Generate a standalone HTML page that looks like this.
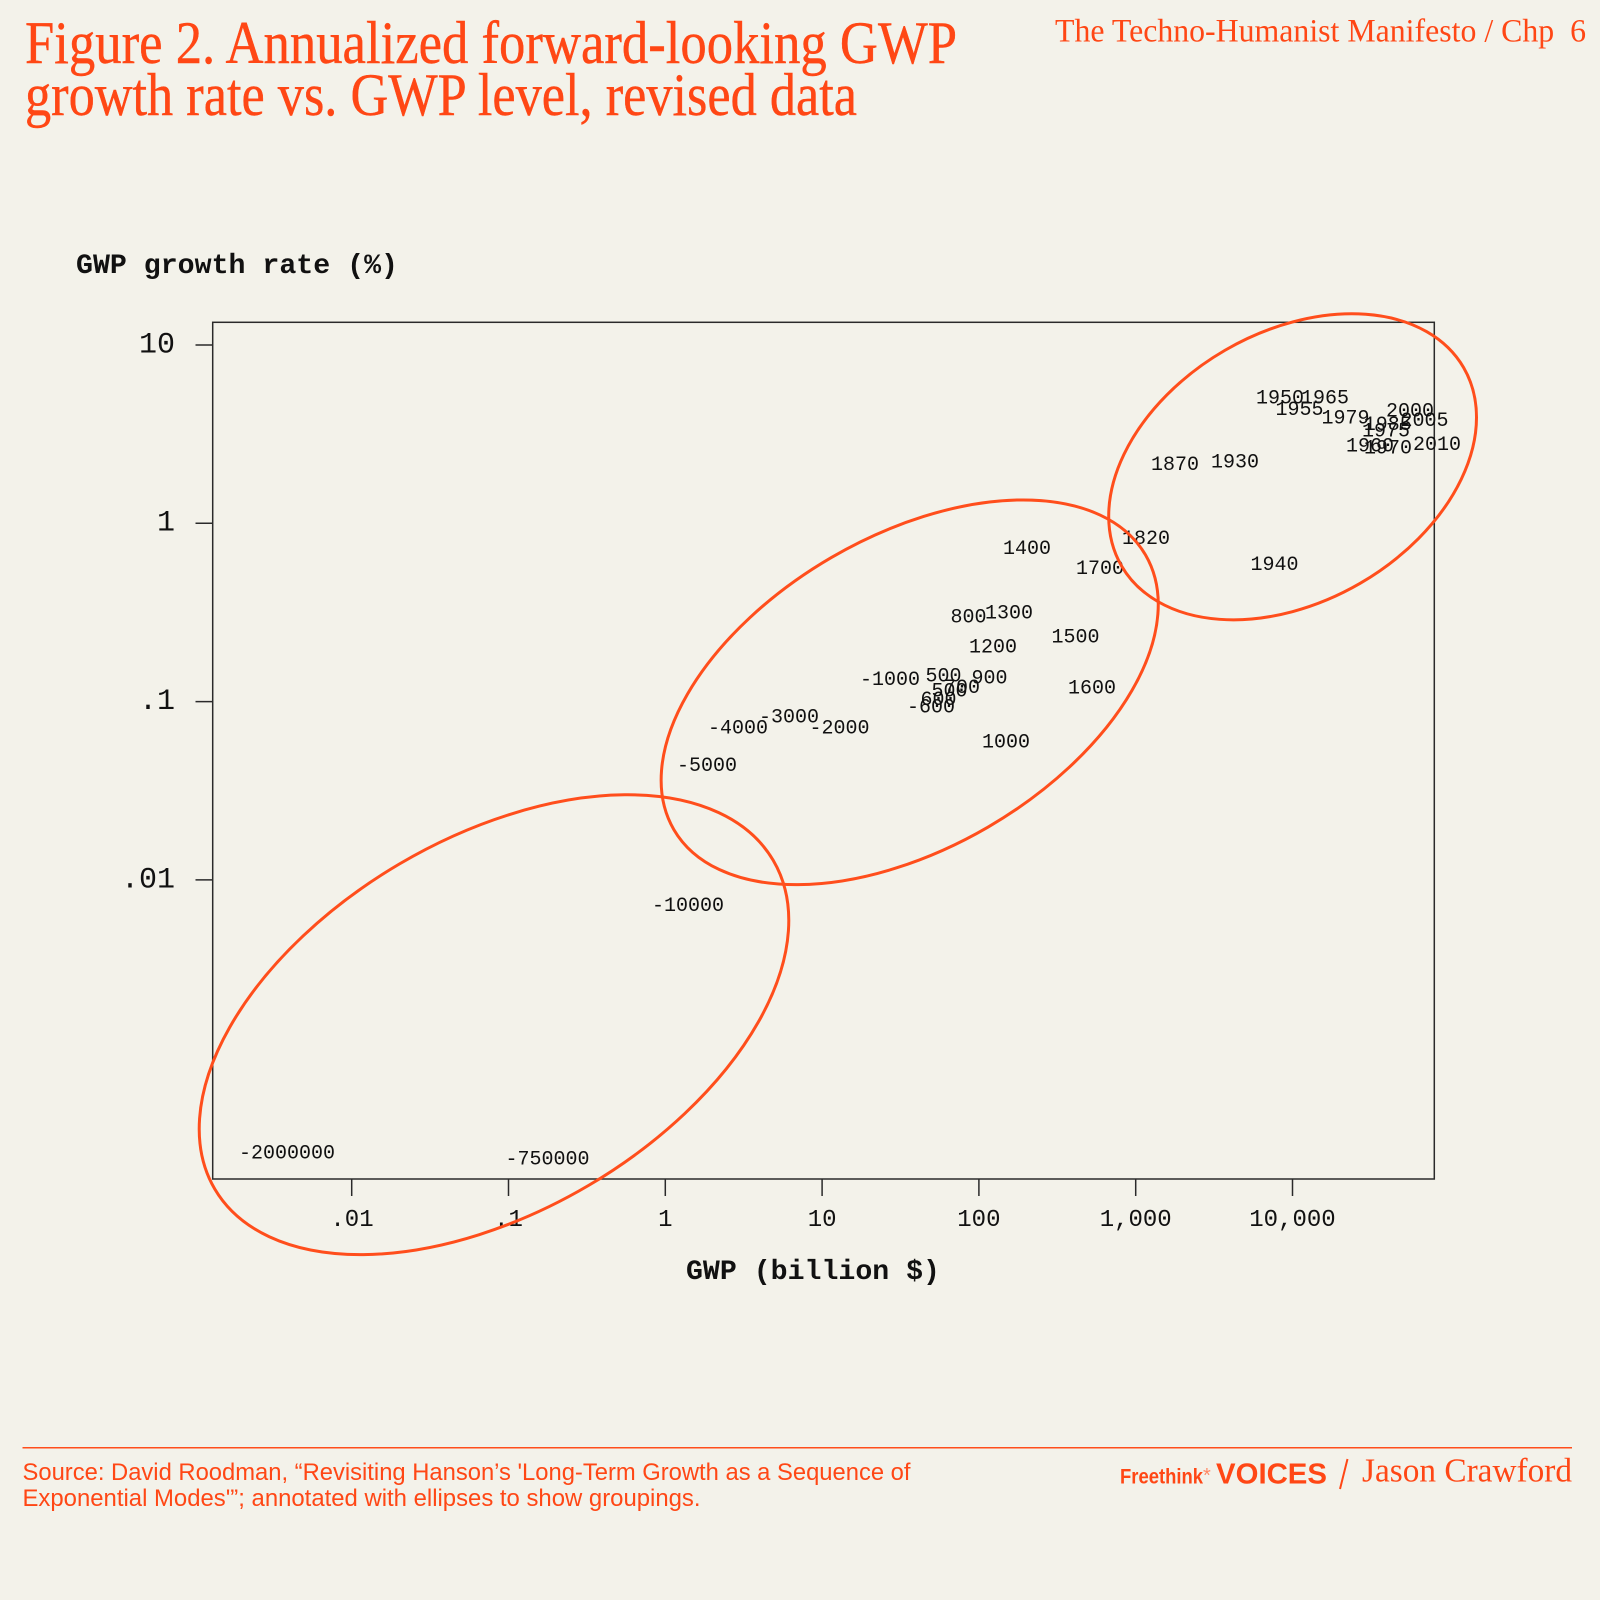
<!DOCTYPE html>
<html>
<head>
<meta charset="utf-8">
<style>
  html, body { margin: 0; padding: 0; background: #F3F2EA; }
  svg { display: block; }
</style>
</head>
<body>
<svg xmlns="http://www.w3.org/2000/svg" width="1600" height="1600" viewBox="0 0 1600 1600">
  <rect x="0" y="0" width="1600" height="1600" fill="#F3F2EA"/>

  <!-- Header -->
  <g font-family="'Liberation Serif', serif" fill="#FF4715">
    <text x="25" y="63" font-size="60" textLength="932" lengthAdjust="spacingAndGlyphs" stroke="#FF4715" stroke-width="0.4">Figure 2. Annualized forward-looking GWP</text>
    <text x="25" y="115" font-size="60" textLength="832" lengthAdjust="spacingAndGlyphs" stroke="#FF4715" stroke-width="0.4">growth rate vs. GWP level, revised data</text>
    <text x="1055" y="41.5" font-size="33" textLength="531" lengthAdjust="spacingAndGlyphs">The Techno-Humanist Manifesto / Chp&#160; 6</text>
  </g>

  <!-- Axis titles -->
  <g font-family="'Liberation Mono', monospace" font-weight="bold" fill="#111" font-size="28">
    <text x="76" y="273" textLength="322" lengthAdjust="spacingAndGlyphs">GWP growth rate (%)</text>
    <text x="686" y="1279" textLength="254" lengthAdjust="spacingAndGlyphs">GWP (billion $)</text>
  </g>

  <!-- Plot box -->
  <rect x="212.7" y="322.3" width="1221.6" height="856.7" fill="none" stroke="#2a2a2a" stroke-width="1.5"/>

  <!-- Y ticks -->
  <g stroke="#2a2a2a" stroke-width="1.5">
    <line x1="195.5" y1="345" x2="212.7" y2="345"/>
    <line x1="195.5" y1="523.3" x2="212.7" y2="523.3"/>
    <line x1="195.5" y1="701.6" x2="212.7" y2="701.6"/>
    <line x1="195.5" y1="879.9" x2="212.7" y2="879.9"/>
  </g>
  <g font-family="'Liberation Mono', monospace" fill="#111" font-size="30" text-anchor="end">
    <text x="175" y="352.5">10</text>
    <text x="175" y="530.5">1</text>
    <text x="175" y="709">.1</text>
    <text x="175" y="887.5">.01</text>
  </g>

  <!-- X ticks -->
  <g stroke="#2a2a2a" stroke-width="1.5">
    <line x1="351.7" y1="1179" x2="351.7" y2="1196"/>
    <line x1="508.5" y1="1179" x2="508.5" y2="1196"/>
    <line x1="665.3" y1="1179" x2="665.3" y2="1196"/>
    <line x1="822.1" y1="1179" x2="822.1" y2="1196"/>
    <line x1="978.9" y1="1179" x2="978.9" y2="1196"/>
    <line x1="1135.7" y1="1179" x2="1135.7" y2="1196"/>
    <line x1="1292.5" y1="1179" x2="1292.5" y2="1196"/>
  </g>
  <g font-family="'Liberation Mono', monospace" fill="#111" font-size="24" text-anchor="middle">
    <text x="352" y="1226">.01</text>
    <text x="508.5" y="1226">.1</text>
    <text x="665.3" y="1226">1</text>
    <text x="822.1" y="1226">10</text>
    <text x="978.9" y="1226">100</text>
    <text x="1135.7" y="1226">1,000</text>
    <text x="1292.5" y="1226">10,000</text>
  </g>

  <!-- Point labels -->
  <g font-family="'Liberation Mono', monospace" fill="#111" font-size="20">
    <!-- upper group -->
    <text x="1256" y="403.3">1950</text>
    <text x="1301" y="403.3">1965</text>
    <text x="1275.5" y="415">1955</text>
    <text x="1321.5" y="423.3">1979</text>
    <text x="1386" y="416.7">2000</text>
    <text x="1363.8" y="430">1985</text>
    <text x="1400.5" y="426">2005</text>
    <text x="1362" y="436.7">1975</text>
    <text x="1346" y="451.7">1960</text>
    <text x="1364" y="453.3">1970</text>
    <text x="1413" y="450">2010</text>
    <text x="1151" y="470">1870</text>
    <text x="1211" y="467.3">1930</text>
    <text x="1122" y="544">1820</text>
    <text x="1250.5" y="570">1940</text>
    <!-- middle group -->
    <text x="1003" y="554">1400</text>
    <text x="1076" y="574">1700</text>
    <text x="950.5" y="622.7">800</text>
    <text x="985" y="618.3">1300</text>
    <text x="1051.5" y="642.3">1500</text>
    <text x="969" y="652.7">1200</text>
    <text x="860" y="685">-1000</text>
    <text x="925.5" y="681.7">500</text>
    <text x="971.5" y="683.3">900</text>
    <text x="1068" y="693.3">1600</text>
    <text x="931.5" y="696.7">500</text>
    <text x="944" y="693">700</text>
    <text x="920.5" y="705">600</text>
    <text x="907" y="712.7">-600</text>
    <text x="982" y="747.3">1000</text>
    <text x="708" y="733.3">-4000</text>
    <text x="759" y="722.7">-3000</text>
    <text x="809.5" y="733.3">-2000</text>
    <text x="677" y="771">-5000</text>
    <!-- lower group -->
    <text x="652" y="911">-10000</text>
    <text x="239" y="1158.3">-2000000</text>
    <text x="505.5" y="1164.3">-750000</text>
  </g>

  <!-- Ellipses -->
  <g fill="none" stroke="#FF4E1C" stroke-width="3">
    <ellipse cx="0" cy="0" rx="324" ry="186.5" transform="translate(494 1024.7) rotate(-30.5)"/>
    <ellipse cx="0" cy="0" rx="272.9" ry="155.9" transform="translate(909.7 692.3) rotate(-30.2)"/>
    <ellipse cx="0" cy="0" rx="197.7" ry="134.7" transform="translate(1292.6 466.8) rotate(-30.1)"/>
  </g>

  <!-- Footer -->
  <line x1="22.5" y1="1447.7" x2="1572" y2="1447.7" stroke="#FF4E1C" stroke-width="1.5"/>
  <g font-family="'Liberation Sans', sans-serif" fill="#FF4715" font-size="24">
    <text x="22.5" y="1480" textLength="888" lengthAdjust="spacingAndGlyphs">Source: David Roodman, “Revisiting Hanson’s 'Long-Term Growth as a Sequence of</text>
    <text x="22.5" y="1506" textLength="678" lengthAdjust="spacingAndGlyphs">Exponential Modes'”; annotated with ellipses to show groupings.</text>
  </g>
  <g fill="#FF4715">
    <text x="1120" y="1483.3" font-family="'Liberation Sans', sans-serif" font-size="21" font-weight="bold" textLength="83" lengthAdjust="spacingAndGlyphs">Freethink</text>
    <text x="1203" y="1482" font-family="'Liberation Sans', sans-serif" font-size="20" fill="#FF8A66">*</text>
    <text x="1216" y="1483.3" font-family="'Liberation Sans', sans-serif" font-size="29" font-weight="bold" textLength="111" lengthAdjust="spacingAndGlyphs">VOICES</text>
    <line x1="1347.5" y1="1459" x2="1340" y2="1489" stroke="#FF4715" stroke-width="2"/>
    <text x="1362" y="1481.7" font-family="'Liberation Serif', serif" font-size="34" textLength="210" lengthAdjust="spacingAndGlyphs">Jason Crawford</text>
  </g>
</svg>
</body>
</html>
